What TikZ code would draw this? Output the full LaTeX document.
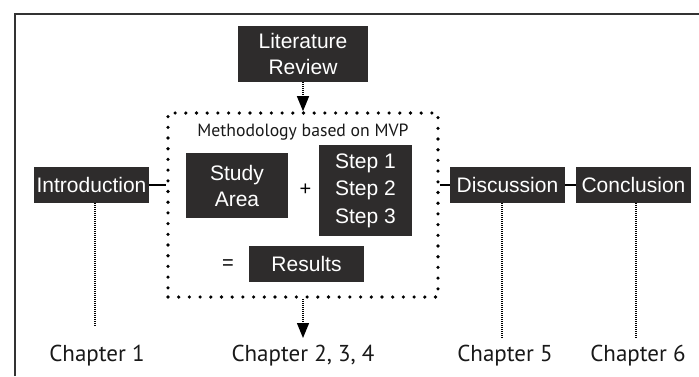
\documentclass[tikz,border=0pt]{standalone}
\usepackage{fontspec}
\setmainfont{Liberation Sans}
\newfontfamily\labfont{PT Sans}
\usetikzlibrary{arrows.meta}
\definecolor{boxgray}{HTML}{2E2C2C}
\definecolor{framegray}{HTML}{333333}
\tikzset{
  blackbox/.style={fill=boxgray, text=white, inner sep=0pt, align=center,
    font=\fontsize{21}{26}\selectfont},
  lab/.style={font=\labfont\fontsize{23}{25}\selectfont, text=black!90, anchor=base},
  bigdots/.style={draw=black, line width=3.6pt, line cap=round, dash pattern=on 0pt off 10.7pt},
  finedots/.style={draw=black, line width=1.3pt, dash pattern=on 1.1pt off 0.9pt},
  solidlink/.style={draw=black, line width=2.2pt},
  tiparrow/.style={finedots, -{Triangle[width=12pt,length=15pt]}}
}
\begin{document}
\begin{tikzpicture}[x=1pt,y=-1pt]
\useasboundingbox (0,0) rectangle (699,376);
% frame (only top and left visible)
\draw[framegray, line width=2.5pt] (15,376) -- (15,14) -- (699,14);

% methodology dotted box
\node[bigdots, minimum width=270pt, minimum height=184pt, inner sep=0pt] (meth) at (303,205) {};
\node[font=\labfont\fontsize{17.7}{19}\selectfont, text=black!90, anchor=base] (methlab) at (303,136) {Methodology based on MVP};

% boxes
\node[blackbox, minimum width=130pt, minimum height=56pt] (lit) at (303,54) {Literature\\Review};
\node[blackbox, minimum width=115pt, minimum height=36pt] (intro) at (91.5,185) {Introduction};
\node[blackbox, minimum width=102pt, minimum height=65pt] (study) at (237,185.5) {Study\\Area};
\node[blackbox, minimum width=93pt, minimum height=91pt, font=\fontsize{21}{27.5}\selectfont] (steps) at (365.5,190.5) {Step 1\\Step 2\\Step 3};
\node[blackbox, minimum width=115pt, minimum height=36pt] (res) at (306.5,264) {Results};
\node[blackbox, minimum width=115pt, minimum height=36pt] (disc) at (507.5,185) {Discussion};
\node[blackbox, minimum width=115pt, minimum height=36pt] (conc) at (633.5,185) {Conclusion};

% operators
\node[font=\fontsize{20}{22}\selectfont] (plus) at (305.5,190) {+};
\node[font=\fontsize{20}{22}\selectfont] (eq) at (228,265) {=};

% solid links
\draw[solidlink] (intro.east) -- (meth.west |- intro.east);
\draw[solidlink] (meth.east |- disc.west) -- (disc.west);
\draw[solidlink] (disc.east) -- (conc.west);

% arrows
\draw[tiparrow] (lit.south) -- (meth.north);
\coordinate (ch234top) at (303,338);
\draw[tiparrow] (meth.south) -- (ch234top);

% chapter labels
\node[lab] (ch1) at (97,361) {Chapter 1};
\node[lab] (ch234) at (303,361) {Chapter 2, 3, 4};
\node[lab] (ch5) at (505,361) {Chapter 5};
\node[lab] (ch6) at (638,361) {Chapter 6};

% fine dotted drop lines
\coordinate (c1) at (95,326);
\coordinate (c5) at (502,338);
\coordinate (c6) at (636,338);
\draw[finedots] (intro.south -| c1) -- (c1);
\draw[finedots] (disc.south -| c5) -- (c5);
\draw[finedots] (conc.south -| c6) -- (c6);
\end{tikzpicture}
\end{document}
